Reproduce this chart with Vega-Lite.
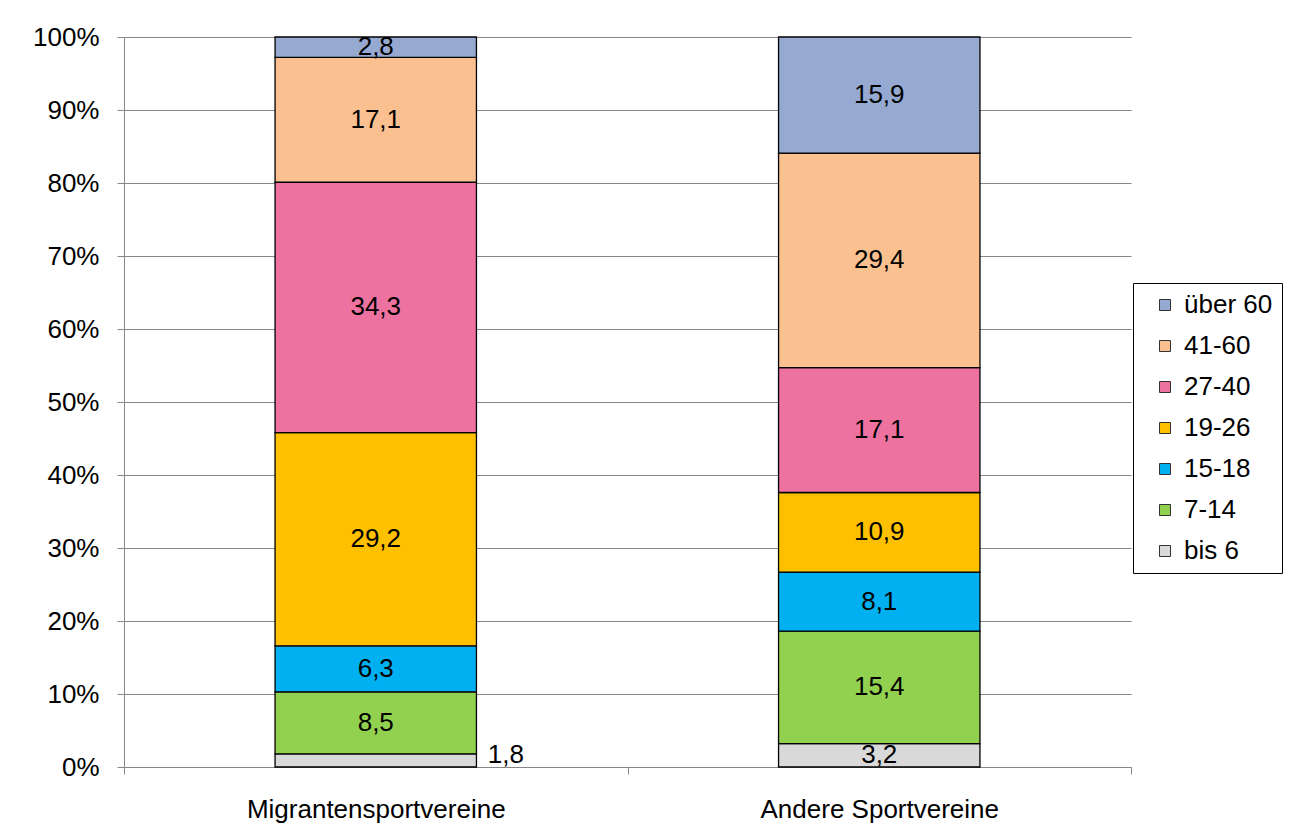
{
  "$schema": "https://vega.github.io/schema/vega-lite/v6.json",
  "width": 1007,
  "height": 730,
  "autosize": {"type": "none"},
  "padding": {"left": 124, "top": 37, "right": 163, "bottom": 71},
  "background": "white",
  "config": {
    "view": {"stroke": null},
    "font": "Liberation Sans",
    "locale": {"number": {"decimal": ",", "thousands": ".", "grouping": [3], "currency": ["", " €"]}}
  },
  "data": {
    "values": [
      {"club": "Migrantensportvereine", "age": "bis 6", "ord": 1, "value": 1.8},
      {"club": "Migrantensportvereine", "age": "7-14", "ord": 2, "value": 8.5},
      {"club": "Migrantensportvereine", "age": "15-18", "ord": 3, "value": 6.3},
      {"club": "Migrantensportvereine", "age": "19-26", "ord": 4, "value": 29.2},
      {"club": "Migrantensportvereine", "age": "27-40", "ord": 5, "value": 34.3},
      {"club": "Migrantensportvereine", "age": "41-60", "ord": 6, "value": 17.1},
      {"club": "Migrantensportvereine", "age": "über 60", "ord": 7, "value": 2.8},
      {"club": "Andere Sportvereine", "age": "bis 6", "ord": 1, "value": 3.2},
      {"club": "Andere Sportvereine", "age": "7-14", "ord": 2, "value": 15.4},
      {"club": "Andere Sportvereine", "age": "15-18", "ord": 3, "value": 8.1},
      {"club": "Andere Sportvereine", "age": "19-26", "ord": 4, "value": 10.9},
      {"club": "Andere Sportvereine", "age": "27-40", "ord": 5, "value": 17.1},
      {"club": "Andere Sportvereine", "age": "41-60", "ord": 6, "value": 29.4},
      {"club": "Andere Sportvereine", "age": "über 60", "ord": 7, "value": 15.9}
    ]
  },
  "transform": [
    {"stack": "value", "groupby": ["club"], "sort": [{"field": "ord", "order": "ascending"}], "as": ["y0", "y1"]},
    {"calculate": "(datum.y0 + datum.y1) / 2", "as": "mid"}
  ],
  "encoding": {
    "x": {
      "field": "club",
      "type": "nominal",
      "sort": ["Migrantensportvereine", "Andere Sportvereine"],
      "scale": {"paddingInner": 0, "paddingOuter": 0},
      "axis": {
        "title": null,
        "labelAngle": 0,
        "labelFontSize": 26,
        "labelLimit": 0,
        "labelColor": "black",
        "labelPadding": 22,
        "ticks": true,
        "tickBand": "extent",
        "tickSize": 7,
        "tickColor": "#868686",
        "domainColor": "#868686",
        "grid": false
      }
    }
  },
  "layer": [
    {
      "mark": {"type": "bar", "width": {"band": 0.4}, "stroke": "black", "strokeWidth": 1.3},
      "encoding": {
        "y": {
          "field": "y1",
          "type": "quantitative",
          "scale": {"domain": [0, 100], "nice": false},
          "axis": {
            "title": null,
            "values": [0, 10, 20, 30, 40, 50, 60, 70, 80, 90, 100],
            "labelExpr": "datum.value + '%'",
            "labelFontSize": 26,
            "labelColor": "black",
            "labelPadding": 18,
            "tickSize": 7,
            "tickColor": "#868686",
            "domainColor": "#868686",
            "grid": true,
            "gridColor": "#868686",
            "gridWidth": 1
          }
        },
        "y2": {"field": "y0"},
        "color": {
          "field": "age",
          "type": "nominal",
          "scale": {
            "domain": ["über 60", "41-60", "27-40", "19-26", "15-18", "7-14", "bis 6"],
            "range": ["#95A9D1", "#FAC090", "#EE72A0", "#FFC000", "#00B0F0", "#92D050", "#D9D9D9"]
          },
          "legend": {
            "title": null,
            "orient": "none",
            "legendX": 1009,
            "legendY": 246,
            "direction": "vertical",
            "labelFontSize": 26,
            "labelColor": "black",
            "labelOffset": 6,
            "symbolType": "square",
            "symbolSize": 121,
            "symbolStrokeColor": "#333333",
            "symbolStrokeWidth": 1,
            "symbolOffset": 10,
            "rowPadding": 15,
            "padding": 9,
            "strokeColor": "black",
            "fillColor": "white"
          }
        }
      }
    },
    {
      "transform": [{"filter": "!(datum.club == 'Migrantensportvereine' && datum.age == 'bis 6')"}],
      "mark": {"type": "text", "fontSize": 26, "color": "black", "baseline": "middle", "align": "center"},
      "encoding": {
        "y": {"field": "mid", "type": "quantitative"},
        "text": {"field": "value", "type": "quantitative", "format": ".1f"}
      }
    },
    {
      "transform": [{"filter": "datum.club == 'Migrantensportvereine' && datum.age == 'bis 6'"}],
      "mark": {"type": "text", "fontSize": 26, "color": "black", "baseline": "middle", "align": "left", "dx": 112, "dy": -5},
      "encoding": {
        "y": {"field": "mid", "type": "quantitative"},
        "text": {"field": "value", "type": "quantitative", "format": ".1f"}
      }
    }
  ]
}
